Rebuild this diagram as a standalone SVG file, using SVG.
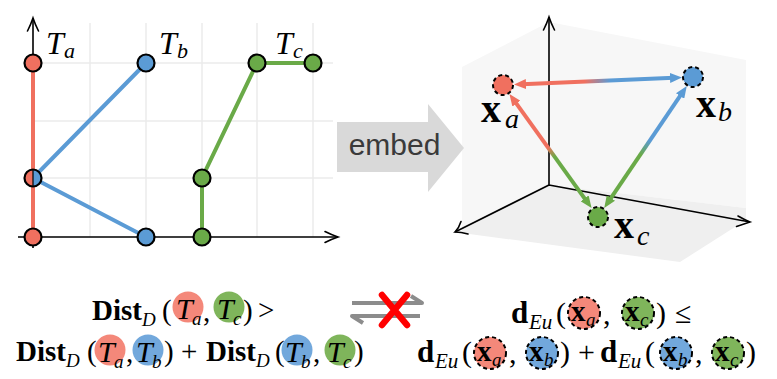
<svg xmlns="http://www.w3.org/2000/svg" width="777" height="379" viewBox="0 0 777 379">
<style>
.grid{stroke:#ebebeb;stroke-width:1.5;fill:none}
.ax{stroke:#000;stroke-width:1.6;fill:none}
.chev{stroke:#000;stroke-width:1.6;fill:none;stroke-linecap:round}
.dot{stroke:#000;stroke-width:2.2}
.red{fill:#f0705f}.blue{fill:#5b9bd5}.green{fill:#6aaa48}
.lred{fill:#f4887a}.lblue{fill:#72a8dc}.lgreen{fill:#7fb55b}
.ddot{stroke:#000;stroke-width:2;stroke-dasharray:4 3}
.fd{stroke:#000;stroke-width:2;stroke-dasharray:4 3}
.it{font-family:"Liberation Serif",serif;font-style:italic}
.rm{font-family:"Liberation Serif",serif}
.bf{font-family:"Liberation Serif",serif;font-weight:bold}
.emb{font-family:"Liberation Sans",Arial,sans-serif;font-size:30px;fill:#3a3a3a}
</style>
<defs>
<marker id="mr" markerUnits="userSpaceOnUse" viewBox="0 0 12 10" refX="4" refY="5" markerWidth="12" markerHeight="10" orient="auto-start-reverse"><path d="M0,0 L12,5 L0,10 z" fill="#f0705f"/></marker>
<marker id="mb" markerUnits="userSpaceOnUse" viewBox="0 0 12 10" refX="4" refY="5" markerWidth="12" markerHeight="10" orient="auto-start-reverse"><path d="M0,0 L12,5 L0,10 z" fill="#5b9bd5"/></marker>
<marker id="mg" markerUnits="userSpaceOnUse" viewBox="0 0 12 10" refX="4" refY="5" markerWidth="12" markerHeight="10" orient="auto-start-reverse"><path d="M0,0 L12,5 L0,10 z" fill="#6aaa48"/></marker>
<linearGradient id="gab" gradientUnits="userSpaceOnUse" x1="522" y1="84.2" x2="674" y2="77.8"><stop offset="0.41" stop-color="#f0705f"/><stop offset="0.58" stop-color="#5b9bd5"/></linearGradient>
<linearGradient id="gac" gradientUnits="userSpaceOnUse" x1="514.1" y1="100.4" x2="586.9" y2="201.6"><stop offset="0.46" stop-color="#f0705f"/><stop offset="0.56" stop-color="#6aaa48"/></linearGradient>
<linearGradient id="gbc" gradientUnits="userSpaceOnUse" x1="682.3" y1="92.7" x2="608.7" y2="201.3"><stop offset="0.44" stop-color="#5b9bd5"/><stop offset="0.57" stop-color="#6aaa48"/></linearGradient>
</defs>

<!-- Left plot -->
<g id="plot-grid">
<path class="grid" d="M90,23V237M146,23V237M202,23V237M257,23V237M313,23V237M33,63H333M33,121H333M33,178H333"/>
</g>
<g id="plot-axes">
<path class="ax" d="M33,248V18M18,237H338"/>
<path class="chev" d="M27.5,31 Q31,24 33,18 Q35,24 38.5,31"/>
<path class="chev" d="M325,231.5 Q332,235 338,237 Q332,239 325,242.5"/>
</g>

<!-- 3D space background -->
<g id="space">
<polygon points="462,67 549,22 746,60 746,208 549,185 462,227" fill="#f7f7f7"/>
<polygon points="462,227 549,185 746,208 746,220 680,262 462,233" fill="#efefef"/>
<path class="ax" d="M549,185V17M549,185L455,232M549,185L750,222"/>
<path class="chev" d="M543.5,30 Q547,23 549,17 Q551,23 554.5,30"/>
<path class="chev" d="M461,221.5 Q459,228 455,232 Q461,232 468,234"/>
<path class="chev" d="M738,216 Q745,220 750,222 Q744,224 736.5,226.5"/>
</g>

<g id="connectors">
<path d="M33,63V237" stroke="#f0705f" stroke-width="4" fill="none"/>
<path d="M146,63L33,178L146,237" stroke="#5b9bd5" stroke-width="4" fill="none"/>
<path d="M202,237V178L257,63H313" stroke="#6aaa48" stroke-width="4" fill="none"/>
<line x1="522" y1="84.2" x2="674" y2="77.8" stroke="url(#gab)" stroke-width="4" marker-start="url(#mr)" marker-end="url(#mb)"/>
<line x1="514.1" y1="100.4" x2="586.9" y2="201.6" stroke="url(#gac)" stroke-width="4" marker-start="url(#mr)" marker-end="url(#mg)"/>
<line x1="682.3" y1="92.7" x2="608.7" y2="201.3" stroke="url(#gbc)" stroke-width="4" marker-start="url(#mb)" marker-end="url(#mg)"/>
</g>
<g id="Ta">
<circle class="dot red" cx="33" cy="63" r="8.5"/>
<circle class="dot red" cx="33" cy="237" r="8.5"/>
<text class="it" x="46" y="54" font-size="32">T</text><text class="it" x="64" y="58" font-size="22">a</text>
</g>
<g id="Tab-shared">
<circle class="red" cx="33" cy="178" r="8.5"/>
<path class="blue" d="M33,169.5 A8.5,8.5 0 0 1 33,186.5 z"/>
<circle cx="33" cy="178" r="8.5" fill="none" stroke="#000" stroke-width="2.2"/>
<line x1="33" y1="169.5" x2="33" y2="186.5" stroke="#000" stroke-width="1.2"/>
</g>
<g id="Tb">
<circle class="dot blue" cx="146" cy="63" r="8.5"/>
<circle class="dot blue" cx="146" cy="237" r="8.5"/>
<text class="it" x="159" y="54" font-size="32">T</text><text class="it" x="177" y="58" font-size="22">b</text>
</g>
<g id="Tc">
<circle class="dot green" cx="202" cy="237" r="8.5"/>
<circle class="dot green" cx="202" cy="178" r="8.5"/>
<circle class="dot green" cx="257" cy="63" r="8.5"/>
<circle class="dot green" cx="313" cy="63" r="8.5"/>
<text class="it" x="275" y="54" font-size="32">T</text><text class="it" x="293" y="58" font-size="22">c</text>
</g>

<!-- embed arrow -->
<g id="embed">
<polygon points="337,122 428,122 428,104 464,148 428,192 428,172 337,172" fill="#d9d9d9"/>
<text class="emb" x="394.5" y="155" text-anchor="middle">embed</text>
</g>

<g id="xa">
<circle class="ddot red" cx="503" cy="85" r="10"/>
<text class="bf" x="481" y="122" font-size="40">x</text><text class="it" x="505" y="128" font-size="28">a</text>
</g>
<g id="xb">
<circle class="ddot blue" cx="693" cy="77" r="10"/>
<text class="bf" x="696" y="117" font-size="40">x</text><text class="it" x="718" y="121" font-size="28">b</text>
</g>
<g id="xc">
<circle class="ddot green" cx="598" cy="217" r="10"/>
<text class="bf" x="614" y="238" font-size="40">x</text><text class="it" x="637" y="245" font-size="28">c</text>
</g>

<!-- left formula -->
<g id="formula-left">
<circle class="lred" cx="188" cy="307" r="15.5"/>
<circle class="lgreen" cx="229" cy="307" r="15.5"/>
<text class="bf" x="92" y="320" font-size="29">Dist</text>
<text class="it" x="142" y="326" font-size="19">D</text>
<text class="rm" x="162" y="320" font-size="29">(</text>
<text class="it" x="176" y="319" font-size="30">T</text><text class="it" x="192" y="325" font-size="19">a</text>
<text class="rm" x="203" y="321" font-size="29">,</text>
<text class="it" x="217" y="319" font-size="30">T</text><text class="it" x="233" y="325" font-size="19">c</text>
<text class="rm" x="243" y="320" font-size="29">)</text>
<text class="rm" x="258" y="320" font-size="29">&gt;</text>

<circle class="lred" cx="110" cy="350" r="15.5"/>
<circle class="lblue" cx="148" cy="350" r="15.5"/>
<circle class="lblue" cx="297" cy="350" r="15.5"/>
<circle class="lgreen" cx="340" cy="350" r="15.5"/>
<text class="bf" x="16" y="361" font-size="29">Dist</text>
<text class="it" x="66" y="367" font-size="19">D</text>
<text class="rm" x="87" y="361" font-size="29">(</text>
<text class="it" x="98" y="362" font-size="30">T</text><text class="it" x="114" y="368" font-size="19">a</text>
<text class="rm" x="126" y="362" font-size="29">,</text>
<text class="it" x="136" y="362" font-size="30">T</text><text class="it" x="152" y="368" font-size="19">b</text>
<text class="rm" x="164" y="361" font-size="29">)</text>
<text class="rm" x="181" y="361" font-size="29">+</text>
<text class="bf" x="206" y="361" font-size="29">Dist</text>
<text class="it" x="256" y="367" font-size="19">D</text>
<text class="rm" x="275" y="361" font-size="29">(</text>
<text class="it" x="285" y="362" font-size="30">T</text><text class="it" x="301" y="368" font-size="19">b</text>
<text class="rm" x="313" y="362" font-size="29">,</text>
<text class="it" x="327" y="362" font-size="30">T</text><text class="it" x="343" y="368" font-size="19">c</text>
<text class="rm" x="354" y="361" font-size="29">)</text>
</g>

<!-- not equivalent symbol -->
<g id="not-equiv">
<path d="M352,303H422L411,296" stroke="#8c8c8c" stroke-width="4" fill="none" stroke-linejoin="round"/>
<path d="M420,316H352L363,323" stroke="#8c8c8c" stroke-width="4" fill="none" stroke-linejoin="round"/>
<path d="M382,295L407,325M407,295L382,325" stroke="#ff0000" stroke-width="6.5" stroke-linecap="round"/>
</g>

<!-- right formula -->
<g id="formula-right">
<circle class="fd lred" cx="584" cy="313" r="16"/>
<circle class="fd lgreen" cx="638" cy="313" r="16"/>
<text class="bf" x="511" y="323" font-size="31">d</text>
<text class="it" x="529" y="329" font-size="21">Eu</text>
<text class="rm" x="556" y="323" font-size="30">(</text>
<text class="bf" x="571" y="321" font-size="29">x</text><text class="it" x="586" y="326" font-size="19">a</text>
<text class="rm" x="603" y="324" font-size="30">,</text>
<text class="bf" x="625" y="321" font-size="29">x</text><text class="it" x="640" y="326" font-size="19">c</text>
<text class="rm" x="656" y="323" font-size="30">)</text>
<text class="rm" x="675" y="323" font-size="30">≤</text>

<circle class="fd lred" cx="490" cy="353" r="16"/>
<circle class="fd lblue" cx="542" cy="353" r="16"/>
<circle class="fd lblue" cx="676" cy="353" r="16"/>
<circle class="fd lgreen" cx="728" cy="353" r="16"/>
<text class="bf" x="417" y="362" font-size="31">d</text>
<text class="it" x="435" y="368" font-size="21">Eu</text>
<text class="rm" x="462" y="362" font-size="30">(</text>
<text class="bf" x="477" y="361" font-size="29">x</text><text class="it" x="492" y="366" font-size="19">a</text>
<text class="rm" x="509" y="363" font-size="30">,</text>
<text class="bf" x="529" y="361" font-size="29">x</text><text class="it" x="544" y="366" font-size="19">b</text>
<text class="rm" x="560" y="362" font-size="30">)</text>
<text class="rm" x="578" y="362" font-size="30">+</text>
<text class="bf" x="600" y="362" font-size="31">d</text>
<text class="it" x="618" y="368" font-size="21">Eu</text>
<text class="rm" x="645" y="362" font-size="30">(</text>
<text class="bf" x="663" y="361" font-size="29">x</text><text class="it" x="678" y="366" font-size="19">b</text>
<text class="rm" x="695" y="363" font-size="30">,</text>
<text class="bf" x="715" y="361" font-size="29">x</text><text class="it" x="730" y="366" font-size="19">c</text>
<text class="rm" x="746" y="362" font-size="30">)</text>
</g>
</svg>
